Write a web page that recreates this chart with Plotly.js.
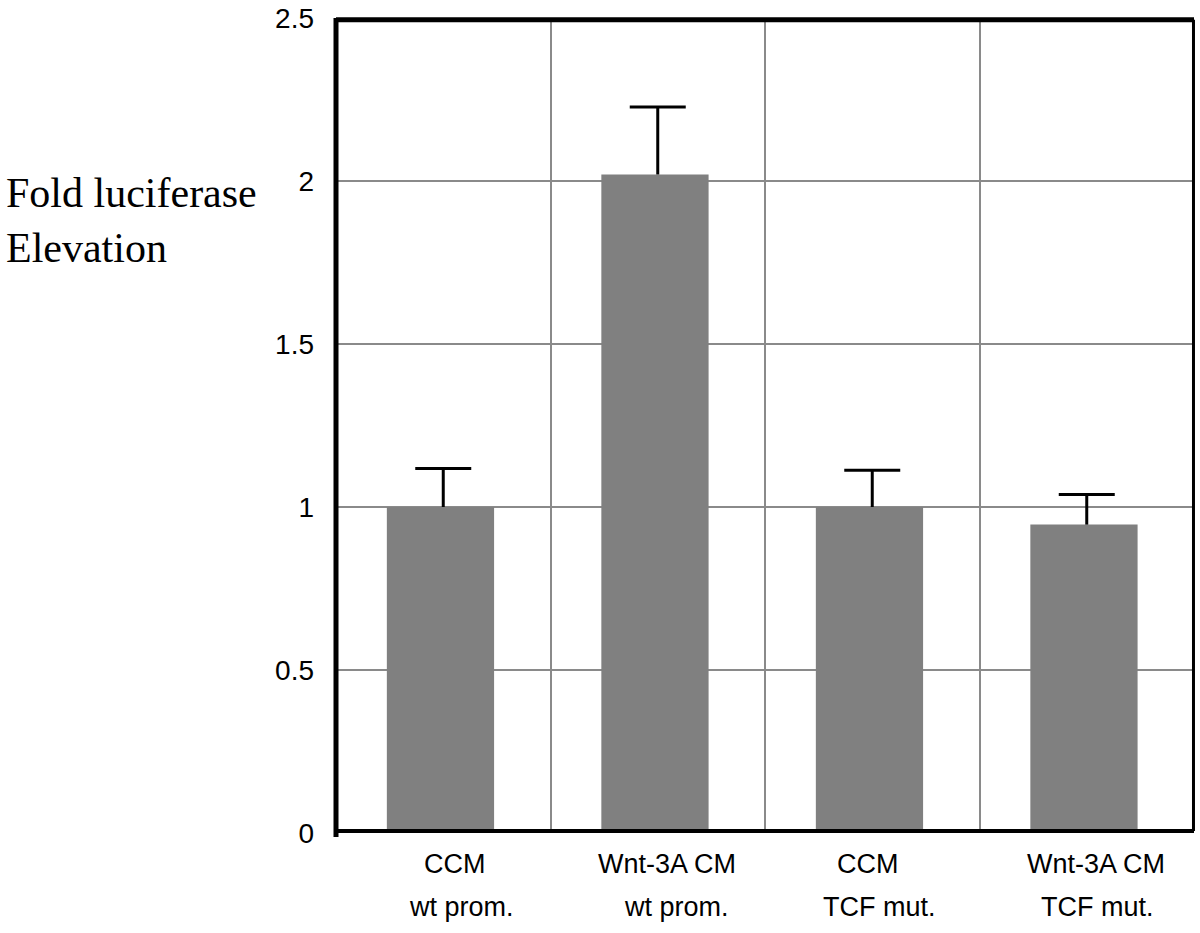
<!DOCTYPE html>
<html>
<head>
<meta charset="utf-8">
<script src="https://cdn.plot.ly/plotly-3.0.1.min.js"></script>
<style>html,body{margin:0;padding:0;background:#fff;}#chart{width:1200px;height:933px;}</style>
</head>
<body>
<div id="chart"></div>
<script>
// ---- data ----
const categories = ["CCM wt prom.", "Wnt-3A CM wt prom.", "CCM TCF mut.", "Wnt-3A CM TCF mut."];
const labelLine1 = ["CCM", "Wnt-3A CM", "CCM", "Wnt-3A CM"];
const labelLine2 = ["wt prom.", "wt prom.", "TCF mut.", "TCF mut."];
const foldValues = [1.00, 2.02, 1.00, 0.946];
const errorUpper = [0.118, 0.207, 0.113, 0.092];
const yTickValues = [0, 0.5, 1, 1.5, 2, 2.5];
const yTickText = ["0", "0.5", "1", "1.5", "2", "2.5"];
const titleLines = ["Fold luciferase", "Elevation"];

// ---- layout helpers (not data) ----
const shift1 = [12, 9, -4, 9];
const shift2 = [18, 19, 7, 11];
const sansFont = "Liberation Sans, Arial, sans-serif";

const bars = {
  type: "bar",
  x: categories,
  y: foldValues,
  width: 0.5,
  offset: -0.263,
  marker: {color: "#808080", line: {width: 0}},
  hoverinfo: "none"
};

// upper-only error bars: cap marker at top, stem drawn downward to bar top
const errTops = foldValues.map((v, i) => v + errorUpper[i]);
const errors = {
  type: "scatter",
  mode: "markers",
  x: categories,
  y: errTops,
  marker: {symbol: "line-ew", size: 40, color: "#000", line: {color: "#000", width: 3}},
  error_y: {
    type: "data",
    symmetric: false,
    array: errorUpper.map(() => 0),
    arrayminus: errorUpper,
    color: "#000",
    thickness: 3,
    width: 0
  },
  hoverinfo: "none"
};

const annotations = [];
categories.forEach((c, i) => {
  annotations.push({
    x: c, xref: "x", y: -0.038, yref: "paper", yanchor: "middle", xanchor: "center",
    xshift: shift1[i], text: labelLine1[i], showarrow: false,
    font: {family: sansFont, size: 27, color: "#000"}
  });
  annotations.push({
    x: c, xref: "x", y: -0.091, yref: "paper", yanchor: "middle", xanchor: "center",
    xshift: shift2[i], text: labelLine2[i], showarrow: false,
    font: {family: sansFont, size: 27, color: "#000"}
  });
});
annotations.push({
  x: -0.387, xref: "paper", y: 0.752, yref: "paper", xanchor: "left", yanchor: "middle",
  align: "left", text: titleLines.join("<br>"), showarrow: false,
  font: {family: "Liberation Serif, Times New Roman, serif", size: 42, color: "#000"}
});

const layout = {
  width: 1200, height: 933,
  margin: {l: 336, r: 6, t: 18, b: 100, pad: 0},
  paper_bgcolor: "#fff", plot_bgcolor: "#fff",
  showlegend: false,
  xaxis: {
    type: "category",
    range: [-0.5, 3.5],
    tickson: "boundaries",
    showgrid: true, gridcolor: "#8a8a8a", gridwidth: 2,
    showticklabels: false, ticks: "",
    showline: false, zeroline: false, fixedrange: true
  },
  yaxis: {
    range: [0, 2.5],
    tickvals: yTickValues, ticktext: yTickText,
    showgrid: true, gridcolor: "#8a8a8a", gridwidth: 2,
    ticks: "", ticklabelstandoff: 21,
    tickfont: {family: sansFont, size: 28, color: "#000"},
    showline: false, zeroline: false, fixedrange: true
  },
  shapes: [
    {type: "line", xref: "paper", yref: "paper", x0: 0, x1: 0, y0: -0.005, y1: 1.0, line: {color: "#000", width: 5}},
    {type: "line", xref: "paper", yref: "paper", x0: 0, x1: 1, y0: 0.0025, y1: 0.0025, line: {color: "#000", width: 4}},
    {type: "line", xref: "paper", yref: "paper", x0: 0, x1: 1, y0: 0.998, y1: 0.998, line: {color: "#000", width: 5}},
    {type: "line", xref: "paper", yref: "paper", x0: 0.9994, x1: 0.9994, y0: 0.0025, y1: 0.998, line: {color: "#000", width: 3}}
  ],
  annotations: annotations
};

Plotly.newPlot("chart", [bars, errors], layout, {staticPlot: true, displayModeBar: false});
</script>
</body>
</html>
